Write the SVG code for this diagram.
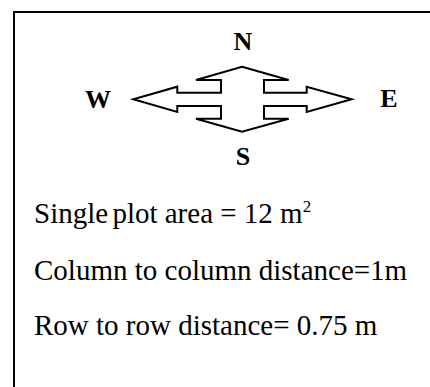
<svg xmlns="http://www.w3.org/2000/svg" width="430" height="387" viewBox="0 0 430 387">
<style>
.frame{fill:none;stroke:#000;stroke-width:2}
.arrow{fill:#fff;stroke:#000;stroke-width:2;stroke-linejoin:miter}
.dir{font-family:"Liberation Serif","Times New Roman",serif;font-weight:bold;font-size:26px;fill:#000}
.body{font-family:"Liberation Serif","Times New Roman",serif;font-size:29px;fill:#000}
</style>
<rect width="430" height="387" fill="#fff"/>
<path class="frame" d="M14,387 V12 H430"/>
<g id="compass">
<polygon class="arrow" points="242,66.7 288.7,80 264,80 264,92.7 306.7,92.7 306.7,86.7 351.7,99.3 306.7,112 306.7,106 264,106 264,118.7 288.7,118.7 242,131.7 196,118.7 221,118.7 221,106 177.3,106 177.3,112 133.3,99.3 177.3,86.7 177.3,92.7 221,92.7 221,80 196,80"/>
</g>
<g id="labels">
<text class="dir" x="243" y="50" text-anchor="middle">N</text>
<text class="dir" x="243" y="165" text-anchor="middle">S</text>
<text class="dir" x="98" y="108" text-anchor="middle">W</text>
<text class="dir" x="389" y="107" text-anchor="middle">E</text>
</g>
<g id="notes">
<text class="body" x="34" y="223">Single<tspan dx="-3"> plot area = 12 m</tspan><tspan font-size="17" dy="-11">2</tspan></text>
<text class="body" x="34" y="280">Column to column distance=1m</text>
<text class="body" x="34" y="335">Row to row distance= 0.75 m</text>
</g>
</svg>
